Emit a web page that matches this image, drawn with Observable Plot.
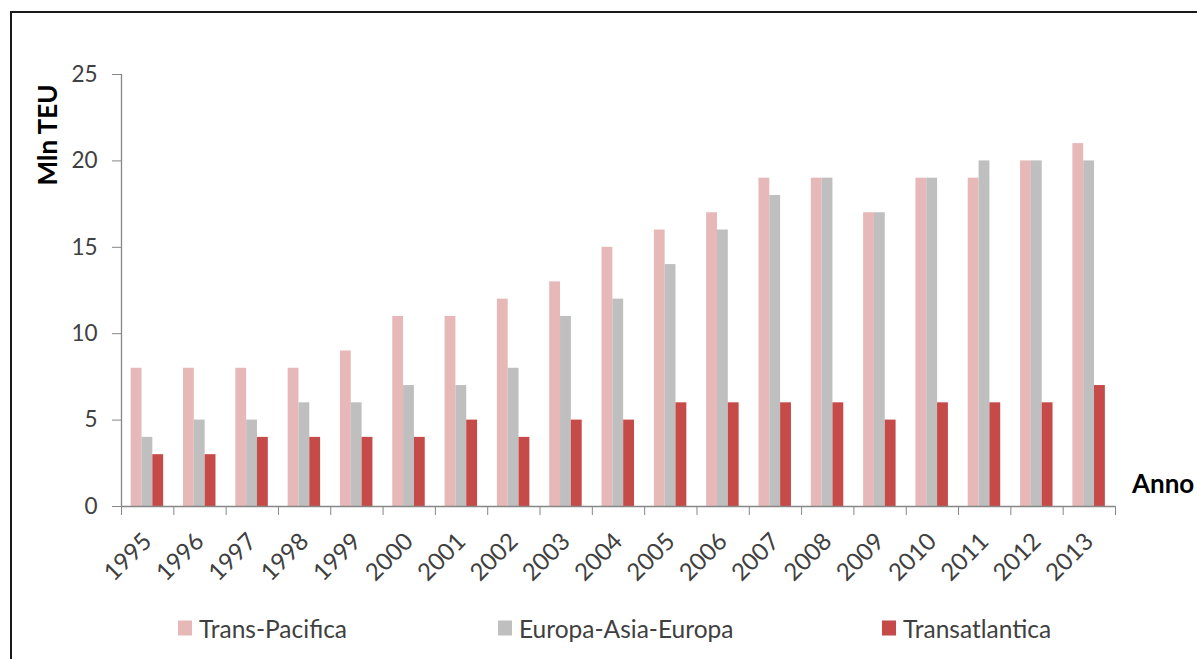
<!DOCTYPE html>
<html>
<head>
<meta charset="utf-8">
<script src="https://cdn.jsdelivr.net/npm/d3@7"></script>
<script src="https://cdn.jsdelivr.net/npm/@observablehq/plot@0.6"></script>
<style>
  html, body { margin: 0; padding: 0; background: #fff; }
  #wrap { position: relative; width: 1197px; height: 659px; overflow: hidden; background: #fff; font-family: Lato, "Open Sans", sans-serif; }
  #frame { position: absolute; left: 10px; top: 11px; width: 1400px; height: 900px; border: 2px solid #1a1a1a; box-sizing: border-box; }
  #chart { position: absolute; left: 0; top: 0; }
  .title { position: absolute; font-weight: bold; color: #000; font-size: 26px; white-space: nowrap; }
  #ylab { left: 47px; top: 135px; transform: translate(-50%, -50%) rotate(-90deg); }
  #xlab { left: 1132px; top: 483px; transform: translateY(-50%); }
  #legend { position: absolute; left: 0; top: 0; width: 1197px; height: 659px; pointer-events: none; }
  .item { position: absolute; top: 628px; transform: translateY(-50%); display: flex; align-items: center; font-size: 24.5px; color: #404040; white-space: nowrap; }
  .sw { width: 14px; height: 15px; margin-right: 7px; }
</style>
</head>
<body>
<div id="wrap">
  <div id="frame"></div>
  <div id="chart"></div>
  <div class="title" id="ylab">Mln TEU</div>
  <div class="title" id="xlab">Anno</div>
  <div id="legend"></div>
</div>
<script>
const years = ["1995","1996","1997","1998","1999","2000","2001","2002","2003","2004","2005","2006","2007","2008","2009","2010","2011","2012","2013"];
const transPacifica = [8,8,8,8,9,11,11,12,13,15,16,17,19,19,17,19,19,20,21];
const europaAsiaEuropa = [4,5,5,6,6,7,7,8,11,12,14,16,18,19,17,19,20,20,20];
const transatlantica = [3,3,4,4,4,4,5,4,5,5,6,6,6,6,5,6,6,6,7];
const seriesNames = ["Trans-Pacifica","Europa-Asia-Europa","Transatlantica"];
const seriesColors = ["#E6B9B8","#BFBFBF","#C64A48"];
const yTicks = [0,5,10,15,20,25];

const seriesValues = [transPacifica, europaAsiaEuropa, transatlantica];
const rows = years.flatMap((yr, i) => seriesNames.map((s, k) => ({i, k, year: yr, series: s, value: seriesValues[k][i]})));

const groupOffset = 0.185, barW = 0.207;

const chart = Plot.plot({
  width: 1197,
  height: 600,
  marginLeft: 121,
  marginRight: 82,
  marginTop: 74,
  marginBottom: 94,
  style: {fontFamily: "Lato, sans-serif", fontSize: "22.5px", color: "#404040", background: "transparent", overflow: "visible"},
  x: {type: "linear", domain: [0, years.length]},
  y: {domain: [0, 25]},
  color: {domain: seriesNames, range: seriesColors},
  marks: [
    Plot.rect(rows, {
      x1: d => d.i + groupOffset + d.k * barW,
      x2: d => d.i + groupOffset + (d.k + 1) * barW,
      y1: 0,
      y2: "value",
      fill: "series"
    }),
    Plot.ruleX([0], {stroke: "#868686", strokeWidth: 1.3}),
    Plot.ruleY([0], {stroke: "#868686", strokeWidth: 1.3}),
    Plot.axisY({ticks: yTicks, tickSize: 9, tickPadding: 15, label: null, stroke: "#868686", fill: "#404040"}),
    Plot.axisX({ticks: d3.range(years.length + 1), tickSize: 9, tickFormat: () => "", label: null, stroke: "#868686"}),
    Plot.axisX({ticks: years.map((_, i) => i + 0.5), tickSize: 0, tickRotate: -45, tickPadding: 31, fontSize: 24,
                tickFormat: v => years[Math.floor(v)], label: null, fill: "#404040"})
  ]
});
document.getElementById("chart").appendChild(chart);

const legendX = [178, 498, 882];
const legend = document.getElementById("legend");
seriesNames.forEach((s, k) => {
  const item = document.createElement("div");
  item.className = "item";
  item.style.left = legendX[k] + "px";
  const sw = document.createElement("div");
  sw.className = "sw";
  sw.style.background = seriesColors[k];
  const t = document.createElement("span");
  t.textContent = s;
  item.appendChild(sw);
  item.appendChild(t);
  legend.appendChild(item);
});
</script>
</body>
</html>
